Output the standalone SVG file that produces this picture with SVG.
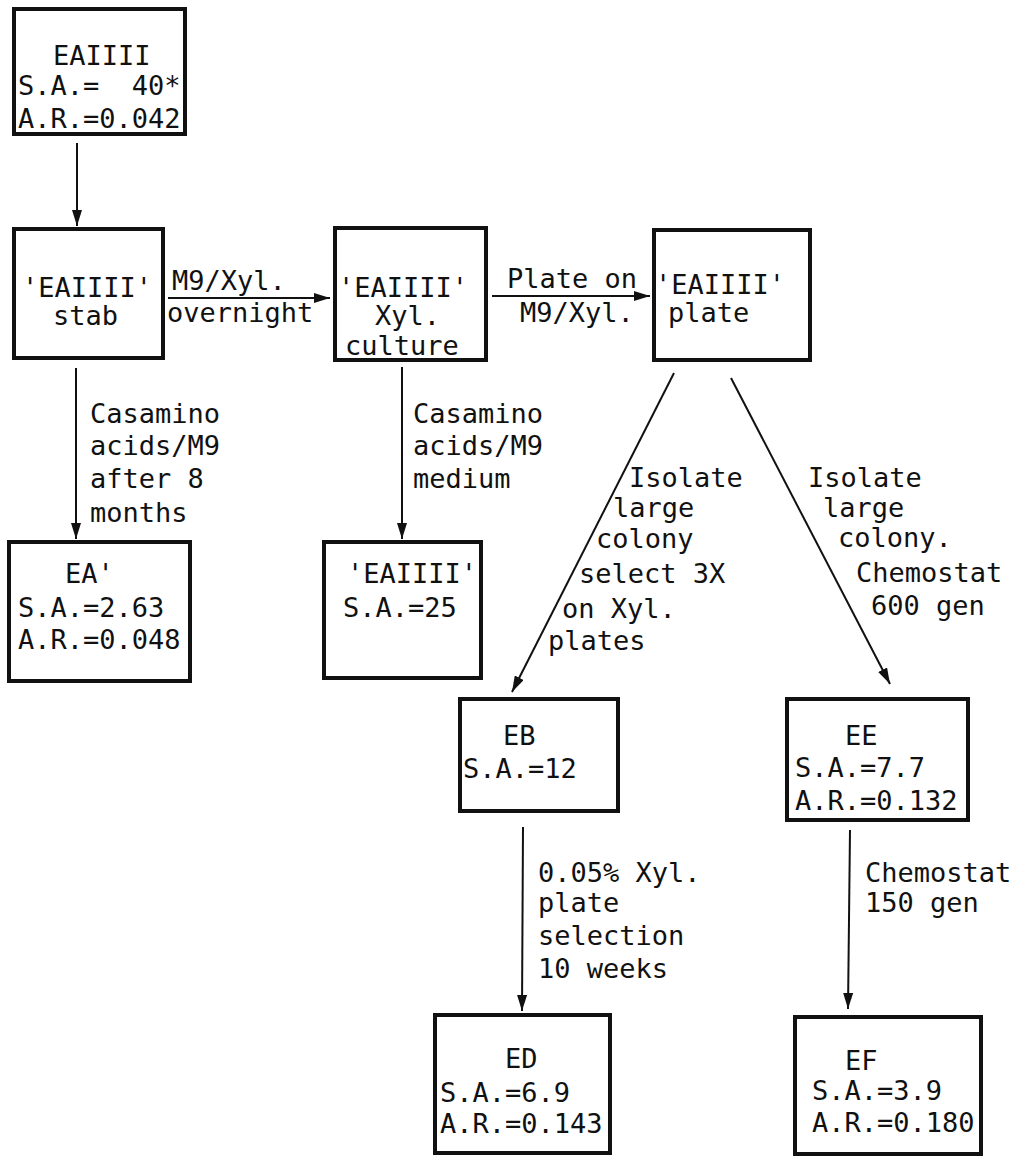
<svg xmlns="http://www.w3.org/2000/svg" width="1012" height="1158" viewBox="0 0 1012 1158">
<style>
text{font-family:"DejaVu Sans Mono","Liberation Mono",monospace;font-size:27px;fill:#111;white-space:pre}
.box{fill:none;stroke:#111;stroke-width:4}
.ln{stroke:#111;stroke-width:2;fill:none;marker-end:url(#ah)}
</style>
<defs>
<marker id="ah" viewBox="0 0 16 10" refX="16" refY="5" markerWidth="16" markerHeight="10" markerUnits="userSpaceOnUse" orient="auto">
<path d="M0,0 L16,5 L0,10 z" fill="#111"/>
</marker>
</defs>
<rect width="1012" height="1158" fill="#fff"/>
<g id="connectors">
<line class="ln" x1="77" y1="143" x2="77" y2="226"/>
<line class="ln" x1="168" y1="298" x2="330" y2="298"/>
<line class="ln" x1="492" y1="296" x2="650" y2="296"/>
<line class="ln" x1="76" y1="368" x2="76" y2="539"/>
<line class="ln" x1="402" y1="367" x2="402" y2="539"/>
<line class="ln" x1="674" y1="373" x2="512" y2="692"/>
<line class="ln" x1="731" y1="378" x2="890" y2="684"/>
<line class="ln" x1="523" y1="827" x2="522" y2="1011"/>
<line class="ln" x1="850" y1="830" x2="848" y2="1009"/>
<text x="172" y="290">M9/Xyl.</text>
<text x="167" y="322">overnight</text>
<text x="507" y="288">Plate on</text>
<text x="520" y="322">M9/Xyl.</text>
<text x="90" y="423">Casamino</text>
<text x="90" y="455">acids/M9</text>
<text x="90" y="488">after 8</text>
<text x="90" y="522">months</text>
<text x="413" y="423">Casamino</text>
<text x="413" y="455">acids/M9</text>
<text x="413" y="488">medium</text>
<text x="629" y="487">Isolate</text>
<text x="613" y="517">large</text>
<text x="596" y="548">colony</text>
<text x="579" y="583">select 3X</text>
<text x="562" y="618">on Xyl.</text>
<text x="548" y="650">plates</text>
<text x="808" y="487">Isolate</text>
<text x="823" y="517">large</text>
<text x="838" y="547">colony.</text>
<text x="856" y="582">Chemostat</text>
<text x="871" y="615">600 gen</text>
<text x="538" y="882">0.05% Xyl.</text>
<text x="538" y="912">plate</text>
<text x="538" y="945">selection</text>
<text x="538" y="978">10 weeks</text>
<text x="865" y="882">Chemostat</text>
<text x="865" y="912">150 gen</text>
</g>
<g id="EAIIII">
<rect class="box" x="14" y="9" width="171" height="125"/>
<text x="53" y="65">EAIIII</text>
<text x="18" y="95">S.A.=  40*</text>
<text x="18" y="128">A.R.=0.042</text>
</g>
<g id="stab">
<rect class="box" x="14" y="229" width="149" height="129"/>
<text x="22" y="297">'EAIIII'</text>
<text x="53" y="325">stab</text>
</g>
<g id="culture">
<rect class="box" x="335" y="228" width="151" height="132"/>
<text x="338" y="297">'EAIIII'</text>
<text x="375" y="325">Xyl.</text>
<text x="345" y="355">culture</text>
</g>
<g id="plate">
<rect class="box" x="654" y="230" width="156" height="130"/>
<text x="655" y="294">'EAIIII'</text>
<text x="668" y="322">plate</text>
</g>
<g id="EAprime">
<rect class="box" x="9" y="542" width="181" height="139"/>
<text x="65" y="583">EA'</text>
<text x="18" y="617">S.A.=2.63</text>
<text x="18" y="649">A.R.=0.048</text>
</g>
<g id="EAIIII25">
<rect class="box" x="324" y="542" width="157" height="136"/>
<text x="347" y="583">'EAIIII'</text>
<text x="343" y="617">S.A.=25</text>
</g>
<g id="EB">
<rect class="box" x="460" y="699" width="158" height="112"/>
<text x="503" y="745">EB</text>
<text x="463" y="778">S.A.=12</text>
</g>
<g id="EE">
<rect class="box" x="787" y="699" width="181" height="121"/>
<text x="845" y="745">EE</text>
<text x="795" y="777">S.A.=7.7</text>
<text x="795" y="810">A.R.=0.132</text>
</g>
<g id="ED">
<rect class="box" x="435" y="1015" width="175" height="138"/>
<text x="505" y="1068">ED</text>
<text x="440" y="1102">S.A.=6.9</text>
<text x="440" y="1133">A.R.=0.143</text>
</g>
<g id="EF">
<rect class="box" x="795" y="1017" width="186" height="137"/>
<text x="845" y="1070">EF</text>
<text x="812" y="1100">S.A.=3.9</text>
<text x="812" y="1132">A.R.=0.180</text>
</g>
</svg>
